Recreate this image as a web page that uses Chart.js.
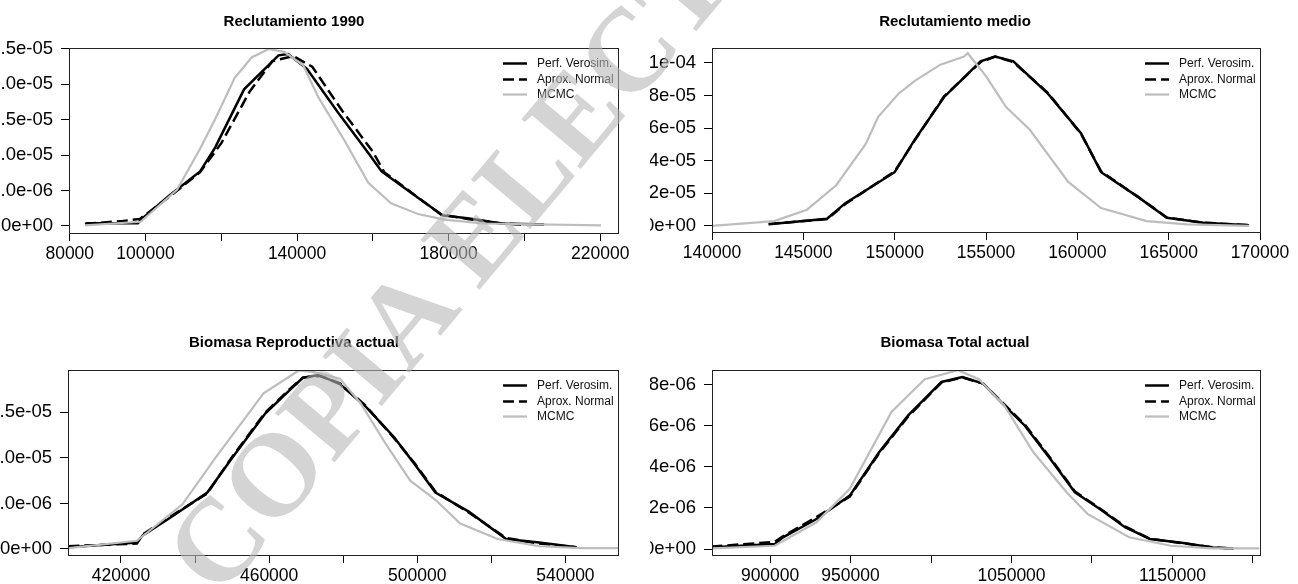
<!DOCTYPE html>
<html>
<head>
<meta charset="utf-8">
<script src="https://cdn.jsdelivr.net/npm/chart.js@4.4.0/dist/chart.umd.min.js"></script>
<style>
  html, body { margin: 0; padding: 0; background: #fff; width: 1298px; height: 584px; overflow: hidden; position: relative; }
  canvas { position: absolute; }
  #c1 { left: -30px; top: 0; }
  #c2 { left: 650px; top: 0; }
  #c3 { left: -30px; top: 292px; }
  #c4 { left: 650px; top: 292px; }
  svg { position: absolute; left: 0; top: 0; pointer-events: none; }
</style>
</head>
<body>
<canvas id="c1" width="680" height="292"></canvas>
<canvas id="c2" width="648" height="292"></canvas>
<canvas id="c3" width="680" height="292"></canvas>
<canvas id="c4" width="648" height="292"></canvas>
<svg width="1298" height="584">
  <text x="219" y="600" transform="rotate(-50 219 600)" font-family="'Liberation Serif', 'Times New Roman', serif"
        font-weight="bold" font-size="118" fill="#b8b8b8" fill-opacity="0.6">COPIA ELECTRÓNICA</text>
</svg>
<script>
// ---------- Reclutamiento 1990 ----------
const rec90_x_perf = [84300, 98000, 98800, 106300, 114400, 118400, 126000, 135100, 137600, 142600, 150700, 158800, 162300, 171900, 178400, 185000, 194000, 205200];
const rec90_perf   = [4e-7, 4e-7, 9e-7, 4.3e-6, 7.7e-6, 1.11e-5, 1.93e-5, 2.41e-5, 2.43e-5, 2.22e-5, 1.61e-5, 1.03e-5, 7.7e-6, 4.0e-6, 1.5e-6, 1.1e-6, 3.5e-7, 2e-7];
const rec90_x_norm = [84000, 94000, 98500, 106500, 114400, 120000, 127500, 133500, 139000, 144000, 152000, 160000, 163000, 172000, 178000, 185000, 194000, 200000];
const rec90_norm   = [3e-7, 7e-7, 1.0e-6, 4.2e-6, 7.6e-6, 1.17e-5, 1.90e-5, 2.33e-5, 2.40e-5, 2.25e-5, 1.62e-5, 1.05e-5, 7.6e-6, 4.0e-6, 1.6e-6, 1.0e-6, 3.5e-7, 2e-7];
const rec90_x_mcmc = [84000, 98700, 108300, 114400, 118400, 123500, 128000, 132500, 136600, 141600, 145600, 152700, 158800, 164800, 171900, 178900, 189000, 220200];
const rec90_mcmc   = [1e-7, 6e-7, 5.1e-6, 1.09e-5, 1.51e-5, 2.09e-5, 2.38e-5, 2.50e-5, 2.46e-5, 2.27e-5, 1.82e-5, 1.19e-5, 6.1e-6, 3.2e-6, 1.7e-6, 9e-7, 3.5e-7, 1e-7];
const rec90_ticksX = [80000, 100000, 120000, 140000, 160000, 180000, 200000, 220000];
const rec90_labelsX = ["80000", "100000", "", "140000", "", "180000", "", "220000"];
const rec90_ticksY = [0, 5e-6, 1e-5, 1.5e-5, 2e-5, 2.5e-5];
const rec90_labelsY = ["0.0e+00", "5.0e-06", "1.0e-05", "1.5e-05", "2.0e-05", "2.5e-05"];

// ---------- Reclutamiento medio ----------
const med_x_perf = [143100, 146300, 147300, 150000, 151100, 152700, 154700, 155500, 156500, 158400, 160200, 161300, 163300, 164900, 166900, 169400];
const med_perf   = [1e-6, 4.4e-6, 1.4e-5, 3.3e-5, 5.3e-5, 7.9e-5, 1.01e-4, 1.04e-4, 1.01e-4, 8.1e-5, 5.7e-5, 3.3e-5, 1.8e-5, 5e-6, 2e-6, 4e-7];
const med_norm   = [1.2e-6, 4.2e-6, 1.35e-5, 3.35e-5, 5.25e-5, 7.95e-5, 1.005e-4, 1.04e-4, 1.005e-4, 8.15e-5, 5.65e-5, 3.35e-5, 1.8e-5, 5.2e-6, 2e-6, 5e-7];
const med_x_mcmc = [140000, 143400, 145200, 146800, 148400, 149100, 150200, 151100, 152500, 153800, 154000, 155000, 156100, 157400, 159500, 161300, 163800, 166000, 169400];
const med_mcmc   = [0, 3e-6, 1.0e-5, 2.5e-5, 5.0e-5, 6.7e-5, 8.1e-5, 8.9e-5, 9.9e-5, 1.04e-4, 1.06e-4, 9.2e-5, 7.3e-5, 5.9e-5, 2.7e-5, 1.1e-5, 3e-6, 1e-6, 0];
const med_ticksX = [140000, 145000, 150000, 155000, 160000, 165000, 170000];
const med_labelsX = ["140000", "145000", "150000", "155000", "160000", "165000", "170000"];
const med_ticksY = [0, 2e-5, 4e-5, 6e-5, 8e-5, 1e-4];
const med_labelsY = ["0e+00", "2e-05", "4e-05", "6e-05", "8e-05", "1e-04"];

// ---------- Biomasa Reproductiva actual ----------
const bra_x_perf = [405800, 424300, 425900, 434300, 443300, 450000, 459000, 465700, 469100, 473500, 479100, 485900, 493700, 499300, 504900, 513900, 524000, 532900, 543000];
const bra_perf   = [2e-7, 7e-7, 1.5e-6, 3.7e-6, 6.2e-6, 1.0e-5, 1.49e-5, 1.75e-5, 1.88e-5, 1.91e-5, 1.81e-5, 1.57e-5, 1.23e-5, 9.3e-6, 6.2e-6, 4.1e-6, 1.1e-6, 7e-7, 2e-7];
const bra_norm   = [3e-7, 6e-7, 1.6e-6, 3.8e-6, 6.1e-6, 1.01e-5, 1.50e-5, 1.76e-5, 1.88e-5, 1.90e-5, 1.82e-5, 1.58e-5, 1.22e-5, 9.4e-6, 6.3e-6, 4.0e-6, 1.2e-6, 6e-7, 2e-7];
const bra_x_mcmc = [405800, 424300, 436600, 445500, 458500, 468000, 472400, 479100, 484700, 491400, 498100, 504900, 511600, 521700, 532900, 544100, 554200];
const bra_mcmc   = [1e-7, 9e-7, 4.9e-6, 1.0e-5, 1.71e-5, 1.96e-5, 1.94e-5, 1.87e-5, 1.6e-5, 1.16e-5, 7.5e-6, 5.4e-6, 2.8e-6, 1.1e-6, 3e-7, 1e-7, 1e-7];
const bra_ticksX = [420000, 440000, 460000, 480000, 500000, 520000, 540000];
const bra_labelsX = ["420000", "", "460000", "", "500000", "", "540000"];
const bra_ticksY = [0, 5e-6, 1e-5, 1.5e-5];
const bra_labelsY = ["0.0e+00", "5.0e-06", "1.0e-05", "1.5e-05"];

// ---------- Biomasa Total actual ----------
const bta_x_perf = [863500, 902900, 908000, 928800, 949500, 967600, 985800, 1006500, 1019400, 1032400, 1045400, 1058300, 1073900, 1089400, 1104900, 1120500, 1136000, 1156800, 1174900, 1187900];
const bta_perf   = [8e-8, 2.4e-7, 5.7e-7, 1.46e-6, 2.6e-6, 4.7e-6, 6.5e-6, 8.13e-6, 8.37e-6, 8.05e-6, 7.0e-6, 6.0e-6, 4.4e-6, 2.76e-6, 1.95e-6, 1.06e-6, 4.9e-7, 2.9e-7, 8e-8, 3e-8];
const bta_norm   = [1.2e-7, 3.5e-7, 6.2e-7, 1.55e-6, 2.55e-6, 4.65e-6, 6.45e-6, 8.1e-6, 8.35e-6, 8.05e-6, 7.05e-6, 6.05e-6, 4.45e-6, 2.8e-6, 1.97e-6, 1.1e-6, 5e-7, 2.8e-7, 8e-8, 3e-8];
const bta_x_mcmc = [863500, 902900, 928800, 949500, 975400, 996100, 1016800, 1029700, 1045400, 1063500, 1084200, 1097200, 1123100, 1149000, 1174900, 1204000];
const bta_mcmc   = [3e-8, 1.6e-7, 1.3e-6, 2.93e-6, 6.67e-6, 8.26e-6, 8.7e-6, 8.26e-6, 7.0e-6, 4.72e-6, 2.76e-6, 1.71e-6, 5.7e-7, 1.6e-7, 3e-8, 3e-8];
const bta_ticksX = [900000, 950000, 1000000, 1050000, 1100000, 1150000, 1200000];
const bta_labelsX = ["900000", "950000", "", "1050000", "", "1150000", ""];
const bta_ticksY = [0, 2e-6, 4e-6, 6e-6, 8e-6];
const bta_labelsY = ["0e+00", "2e-06", "4e-06", "6e-06", "8e-06"];

const series = ["Perf. Verosim.", "Aprox. Normal", "MCMC"];

// ------------------------ estilo ------------------------
const fuente = '"Liberation Sans", Arial, Helvetica, sans-serif';
const negro = "#000000";
const gris = "#bdbdbd";

const puntos = (xs, ys) => xs.map((x, i) => ({ x, y: ys[i] }));

// caja del gráfico + leyenda al estilo R
const marcoLeyenda = {
  id: "marcoLeyenda",
  afterDraw(chart) {
    const { ctx, chartArea: a } = chart;
    ctx.save();
    ctx.strokeStyle = "#222";
    ctx.lineWidth = 1;
    ctx.strokeRect(Math.round(a.left) + 0.5, Math.round(a.top) + 0.5,
                   Math.round(a.right - a.left), Math.round(a.bottom - a.top));
    const x0 = a.right - 115;
    ctx.font = "12px " + fuente;
    ctx.textBaseline = "middle";
    ctx.textAlign = "left";
    chart.data.datasets.forEach((d, i) => {
      const y = Math.round(a.top + 15 + i * 15.5) + 0.5;
      ctx.strokeStyle = d.borderColor;
      ctx.lineWidth = d.borderWidth;
      ctx.setLineDash(d.borderDash || []);
      ctx.beginPath();
      ctx.moveTo(x0, y);
      ctx.lineTo(x0 + 24, y);
      ctx.stroke();
      ctx.setLineDash([]);
      ctx.fillStyle = "#111";
      ctx.fillText(d.label, x0 + 34, y);
    });
    ctx.restore();
  }
};

function eje(ticks, labels, min, max, fit, tam, pad) {
  return {
    type: "linear",
    min, max,
    afterBuildTicks: s => { s.ticks = ticks.map(v => ({ value: v })); },
    afterFit: fit,
    ticks: {
      autoSkip: false, maxRotation: 0, minRotation: 0,
      padding: pad, color: negro,
      font: { family: fuente, size: tam },
      callback: (v, i) => labels[i]
    },
    grid: { drawOnChartArea: false, drawTicks: true, tickLength: 8, color: negro, lineWidth: 1 },
    border: { display: false }
  };
}

function panel(id, titulo, datos, ejeX, ejeY, caja) {
  const [xp, yp, xn, yn, xm, ym] = datos;
  const ex = eje(ejeX[0], ejeX[1], ejeX[2], ejeX[3], s => { s.height = caja.alturaX; }, 17.5, 3);
  const ey = eje(ejeY[0], ejeY[1], ejeY[2], ejeY[3], s => { s.width = caja.anchoY; }, 18.5, 8);
  return new Chart(document.getElementById(id), {
    type: "line",
    data: {
      datasets: [
        { label: series[0], data: puntos(xp, yp), borderColor: negro, borderWidth: 2.5, order: 3 },
        { label: series[1], data: puntos(xn, yn), borderColor: negro, borderWidth: 2.5, borderDash: [11, 5], order: 2 },
        { label: series[2], data: puntos(xm, ym), borderColor: gris, borderWidth: 2.2, order: 1 }
      ]
    },
    options: {
      responsive: false,
      animation: false,
      events: [],
      elements: { point: { radius: 0 }, line: { tension: 0, fill: false } },
      layout: { padding: { left: 0, right: caja.derecha, top: 0, bottom: 0 } },
      plugins: {
        legend: { display: false },
        tooltip: { enabled: false },
        title: {
          display: true, text: titulo, color: negro,
          font: { family: fuente, size: 15, weight: "bold" },
          padding: { top: caja.tituloArriba, bottom: caja.tituloAbajo }
        }
      },
      scales: { x: ex, y: ey }
    },
    plugins: [marcoLeyenda]
  });
}

panel("c1", "Reclutamiento 1990",
  [rec90_x_perf, rec90_perf, rec90_x_norm, rec90_norm, rec90_x_mcmc, rec90_mcmc],
  [rec90_ticksX, rec90_labelsX, 79800, 224700],
  [rec90_ticksY, rec90_labelsY, -0.99e-6, 2.514e-5],
  { anchoY: 99, alturaX: 59, derecha: 32, tituloArriba: 13, tituloAbajo: 17 });

panel("c2", "Reclutamiento medio",
  [med_x_perf, med_perf, med_x_perf, med_norm, med_x_mcmc, med_mcmc],
  [med_ticksX, med_labelsX, 140000, 170000],
  [med_ticksY, med_labelsY, -3.7e-6, 1.092e-4],
  { anchoY: 62, alturaX: 60, derecha: 38, tituloArriba: 13, tituloAbajo: 17 });

panel("c3", "Biomasa Reproductiva actual",
  [bra_x_perf, bra_perf, bra_x_perf, bra_norm, bra_x_mcmc, bra_mcmc],
  [bra_ticksX, bra_labelsX, 405700, 554200],
  [bra_ticksY, bra_labelsY, -6.6e-7, 1.965e-5],
  { anchoY: 98, alturaX: 29, derecha: 32, tituloArriba: 42, tituloAbajo: 18 });

panel("c4", "Biomasa Total actual",
  [bta_x_perf, bta_perf, bta_x_perf, bta_norm, bta_x_mcmc, bta_mcmc],
  [bta_ticksX, bta_labelsX, 863900, 1204400],
  [bta_ticksY, bta_labelsY, -2.9e-7, 8.71e-6],
  { anchoY: 62, alturaX: 29, derecha: 38, tituloArriba: 42, tituloAbajo: 18 });
</script>
</body>
</html>
